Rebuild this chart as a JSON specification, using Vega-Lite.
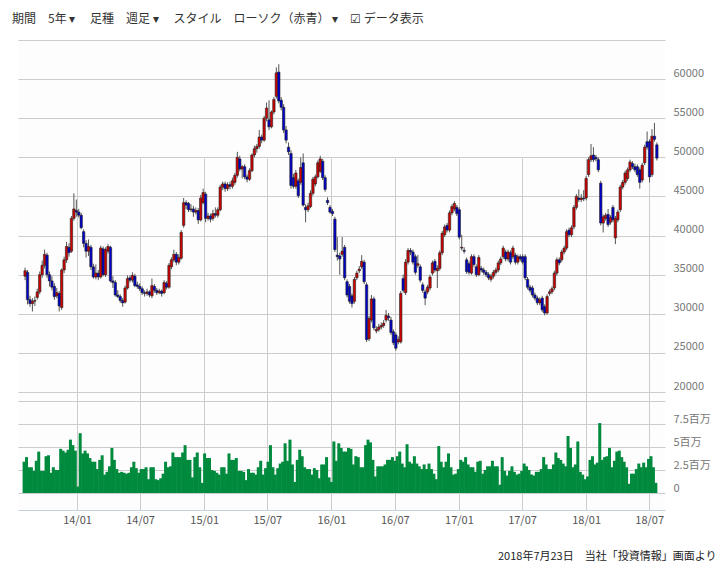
{
"$schema":"https://vega.github.io/schema/vega-lite/v6.json",
"width":647,"height":470,
"autosize":{"type":"none"},
"padding":{"left":18,"top":40,"right":61,"bottom":60},
"background":"white",
"config":{"view":{"stroke":null,"fill":"#fdfdfd"},"font":"Noto Sans CJK JP"},
"title":{"text":"期間　5年 ▾　 足種　週足 ▾　 スタイル　ローソク（赤青） ▾　☑ データ表示","anchor":"start","dx":-6,"offset":14,"fontSize":12,"fontWeight":"normal","color":"#333","font":"Noto Sans CJK JP"},
"data":{"values":[
{"d":"2013-08-05","o":34800,"h":35900,"l":34300,"c":35500,"v":3.4},
{"d":"2013-08-12","o":35300,"h":35600,"l":31200,"c":31800,"v":3.9},
{"d":"2013-08-19","o":31800,"h":32300,"l":30900,"c":31300,"v":2.8},
{"d":"2013-08-26","o":31300,"h":32000,"l":30300,"c":31600,"v":2.8},
{"d":"2013-09-02","o":31600,"h":32200,"l":31000,"c":31700,"v":2.4},
{"d":"2013-09-09","o":32100,"h":33200,"l":31800,"c":32800,"v":3.5},
{"d":"2013-09-16","o":32800,"h":35400,"l":32500,"c":35000,"v":4.5},
{"d":"2013-09-23","o":35000,"h":36800,"l":34600,"c":36200,"v":2.4},
{"d":"2013-09-30","o":36200,"h":38200,"l":35800,"c":37600,"v":2.4},
{"d":"2013-10-07","o":37500,"h":37800,"l":34600,"c":35000,"v":4.0},
{"d":"2013-10-14","o":35000,"h":35400,"l":33500,"c":34200,"v":4.1},
{"d":"2013-10-21","o":34200,"h":34800,"l":33000,"c":33400,"v":2.2},
{"d":"2013-10-28","o":33500,"h":33900,"l":31800,"c":32200,"v":2.8},
{"d":"2013-11-04","o":32300,"h":33300,"l":32000,"c":32700,"v":2.5},
{"d":"2013-11-11","o":32600,"h":32900,"l":30300,"c":31000,"v":2.5},
{"d":"2013-11-18","o":30800,"h":35800,"l":30500,"c":35600,"v":4.8},
{"d":"2013-11-25","o":35600,"h":37300,"l":35200,"c":36900,"v":4.6},
{"d":"2013-12-02","o":36900,"h":39200,"l":36500,"c":38600,"v":4.4},
{"d":"2013-12-09","o":38500,"h":39000,"l":37300,"c":37800,"v":4.7},
{"d":"2013-12-16","o":38000,"h":42500,"l":37800,"c":42200,"v":5.8},
{"d":"2013-12-23","o":42200,"h":45400,"l":41900,"c":43400,"v":5.2},
{"d":"2013-12-30","o":43200,"h":44600,"l":42400,"c":43000,"v":4.6},
{"d":"2014-01-06","o":43000,"h":43400,"l":42300,"c":42600,"v":0.7},
{"d":"2014-01-13","o":42600,"h":42900,"l":40800,"c":41000,"v":6.5},
{"d":"2014-01-20","o":40500,"h":40800,"l":38500,"c":39000,"v":4.3},
{"d":"2014-01-27","o":39000,"h":39400,"l":37200,"c":38000,"v":4.6},
{"d":"2014-02-03","o":38000,"h":39500,"l":37400,"c":38600,"v":4.3},
{"d":"2014-02-10","o":38500,"h":38800,"l":35600,"c":36000,"v":3.8},
{"d":"2014-02-17","o":36000,"h":36400,"l":34500,"c":34700,"v":3.4},
{"d":"2014-02-24","o":34700,"h":36300,"l":34400,"c":35200,"v":3.4},
{"d":"2014-03-03","o":35200,"h":35600,"l":34300,"c":34700,"v":2.6},
{"d":"2014-03-10","o":34700,"h":38700,"l":34500,"c":38400,"v":3.6},
{"d":"2014-03-17","o":38300,"h":38600,"l":34800,"c":35000,"v":4.1},
{"d":"2014-03-24","o":35000,"h":38500,"l":34700,"c":38200,"v":2.0},
{"d":"2014-03-31","o":38000,"h":38900,"l":37700,"c":38600,"v":2.3},
{"d":"2014-04-07","o":38500,"h":38700,"l":34000,"c":34200,"v":2.9},
{"d":"2014-04-14","o":34200,"h":34800,"l":33300,"c":34000,"v":4.9},
{"d":"2014-04-21","o":34000,"h":34300,"l":32200,"c":32400,"v":3.6},
{"d":"2014-04-28","o":32400,"h":33000,"l":32000,"c":32200,"v":2.6},
{"d":"2014-05-05","o":32200,"h":32500,"l":31400,"c":31700,"v":2.2},
{"d":"2014-05-12","o":31700,"h":32000,"l":30900,"c":31400,"v":2.3},
{"d":"2014-05-19","o":31500,"h":33600,"l":31300,"c":33300,"v":2.2},
{"d":"2014-05-26","o":33300,"h":34900,"l":33100,"c":34500,"v":2.1},
{"d":"2014-06-02","o":34600,"h":34900,"l":34000,"c":34300,"v":2.2},
{"d":"2014-06-09","o":34300,"h":35300,"l":34000,"c":34900,"v":2.8},
{"d":"2014-06-16","o":34800,"h":35100,"l":33400,"c":33600,"v":3.4},
{"d":"2014-06-23","o":33700,"h":34100,"l":33200,"c":33500,"v":2.7},
{"d":"2014-06-30","o":33500,"h":33900,"l":32900,"c":33200,"v":2.2},
{"d":"2014-07-07","o":33200,"h":33500,"l":32400,"c":32700,"v":2.6},
{"d":"2014-07-14","o":32700,"h":33000,"l":32200,"c":32600,"v":2.6},
{"d":"2014-07-21","o":32600,"h":33200,"l":32300,"c":32800,"v":2.8},
{"d":"2014-07-28","o":32800,"h":33000,"l":32100,"c":32400,"v":1.5},
{"d":"2014-08-04","o":32300,"h":34500,"l":32000,"c":33600,"v":2.8},
{"d":"2014-08-11","o":33500,"h":33800,"l":32700,"c":33000,"v":2.8},
{"d":"2014-08-18","o":33000,"h":33300,"l":32400,"c":32700,"v":1.5},
{"d":"2014-08-25","o":32700,"h":33200,"l":32500,"c":32900,"v":1.4},
{"d":"2014-09-01","o":32900,"h":33100,"l":32200,"c":32600,"v":1.6},
{"d":"2014-09-08","o":32700,"h":34300,"l":32500,"c":34000,"v":2.1},
{"d":"2014-09-15","o":33900,"h":34200,"l":33100,"c":33400,"v":3.4},
{"d":"2014-09-22","o":33400,"h":36500,"l":33200,"c":36200,"v":2.8},
{"d":"2014-09-29","o":36000,"h":37200,"l":35700,"c":36900,"v":2.9},
{"d":"2014-10-06","o":36900,"h":38200,"l":36600,"c":37600,"v":4.4},
{"d":"2014-10-13","o":37600,"h":37900,"l":36200,"c":36600,"v":3.9},
{"d":"2014-10-20","o":36600,"h":37600,"l":36300,"c":37200,"v":3.9},
{"d":"2014-10-27","o":37100,"h":40700,"l":36900,"c":40400,"v":3.9},
{"d":"2014-11-03","o":41300,"h":44800,"l":41000,"c":44200,"v":4.4},
{"d":"2014-11-10","o":44200,"h":44500,"l":43400,"c":43900,"v":5.2},
{"d":"2014-11-17","o":44100,"h":44300,"l":43000,"c":43300,"v":3.6},
{"d":"2014-11-24","o":43300,"h":44000,"l":43000,"c":43400,"v":3.6},
{"d":"2014-12-01","o":43400,"h":43800,"l":42400,"c":43000,"v":1.7},
{"d":"2014-12-08","o":43000,"h":43600,"l":42700,"c":43200,"v":3.9},
{"d":"2014-12-15","o":43200,"h":43500,"l":41500,"c":42000,"v":4.4},
{"d":"2014-12-22","o":42000,"h":45200,"l":41800,"c":44800,"v":2.8},
{"d":"2014-12-29","o":44200,"h":46000,"l":44000,"c":45500,"v":1.1},
{"d":"2015-01-05","o":45300,"h":45600,"l":41700,"c":42200,"v":4.3},
{"d":"2015-01-12","o":42200,"h":42900,"l":41900,"c":42500,"v":3.8},
{"d":"2015-01-19","o":42500,"h":42800,"l":41700,"c":42100,"v":3.8},
{"d":"2015-01-26","o":42200,"h":43300,"l":41900,"c":42800,"v":2.5},
{"d":"2015-02-02","o":42800,"h":43600,"l":42300,"c":42600,"v":2.4},
{"d":"2015-02-09","o":42600,"h":43600,"l":42300,"c":43300,"v":2.2},
{"d":"2015-02-16","o":43300,"h":46500,"l":43100,"c":46200,"v":2.0},
{"d":"2015-02-23","o":46200,"h":46900,"l":45800,"c":46600,"v":2.8},
{"d":"2015-03-02","o":46600,"h":46900,"l":45600,"c":46000,"v":2.8},
{"d":"2015-03-09","o":46000,"h":46800,"l":45700,"c":46500,"v":2.1},
{"d":"2015-03-16","o":46500,"h":46900,"l":45900,"c":46300,"v":4.3},
{"d":"2015-03-23","o":46300,"h":47400,"l":46000,"c":47000,"v":3.6},
{"d":"2015-03-30","o":46800,"h":48000,"l":46500,"c":47700,"v":3.6},
{"d":"2015-04-06","o":47700,"h":50700,"l":47400,"c":50000,"v":3.8},
{"d":"2015-04-13","o":49800,"h":50200,"l":48200,"c":48500,"v":2.4},
{"d":"2015-04-20","o":48500,"h":49000,"l":47300,"c":48800,"v":2.4},
{"d":"2015-04-27","o":48800,"h":49100,"l":47200,"c":47500,"v":2.3},
{"d":"2015-05-04","o":47500,"h":47800,"l":46800,"c":47200,"v":1.4},
{"d":"2015-05-11","o":47200,"h":48600,"l":47000,"c":48300,"v":2.6},
{"d":"2015-05-18","o":48300,"h":50500,"l":48100,"c":50300,"v":2.2},
{"d":"2015-05-25","o":50300,"h":51500,"l":50000,"c":51100,"v":2.2},
{"d":"2015-06-01","o":51100,"h":51700,"l":50600,"c":51400,"v":2.0},
{"d":"2015-06-08","o":51400,"h":53500,"l":51100,"c":52600,"v":2.8},
{"d":"2015-06-15","o":52600,"h":52900,"l":51800,"c":52200,"v":3.5},
{"d":"2015-06-22","o":52200,"h":55300,"l":52000,"c":55000,"v":2.0},
{"d":"2015-06-29","o":55000,"h":57000,"l":54600,"c":56300,"v":2.7},
{"d":"2015-07-06","o":54800,"h":57300,"l":53500,"c":53900,"v":3.4},
{"d":"2015-07-13","o":53900,"h":56000,"l":53700,"c":55800,"v":5.2},
{"d":"2015-07-20","o":55800,"h":57700,"l":55500,"c":57400,"v":2.8},
{"d":"2015-07-27","o":57800,"h":61500,"l":57500,"c":60800,"v":2.0},
{"d":"2015-08-03","o":60900,"h":61900,"l":56900,"c":57200,"v":2.7},
{"d":"2015-08-10","o":57300,"h":57700,"l":56000,"c":56400,"v":3.2},
{"d":"2015-08-17","o":56400,"h":56800,"l":53100,"c":53500,"v":3.4},
{"d":"2015-08-24","o":53500,"h":54000,"l":51800,"c":52200,"v":5.4},
{"d":"2015-08-31","o":51300,"h":51900,"l":50300,"c":50700,"v":3.5},
{"d":"2015-09-07","o":50500,"h":50900,"l":46000,"c":46400,"v":5.8},
{"d":"2015-09-14","o":47400,"h":47900,"l":46000,"c":46300,"v":3.1},
{"d":"2015-09-21","o":46300,"h":48400,"l":46000,"c":48000,"v":1.2},
{"d":"2015-09-28","o":47000,"h":47300,"l":44800,"c":45100,"v":3.6},
{"d":"2015-10-05","o":46800,"h":50000,"l":46500,"c":48700,"v":4.7},
{"d":"2015-10-12","o":49300,"h":50500,"l":43700,"c":43900,"v":4.0},
{"d":"2015-10-19","o":43600,"h":44000,"l":41700,"c":43300,"v":2.8},
{"d":"2015-10-26","o":43300,"h":44200,"l":43000,"c":43800,"v":2.6},
{"d":"2015-11-02","o":43700,"h":45800,"l":43500,"c":45400,"v":2.6},
{"d":"2015-11-09","o":45400,"h":47500,"l":45100,"c":47200,"v":2.0},
{"d":"2015-11-16","o":46600,"h":47800,"l":46300,"c":47500,"v":2.7},
{"d":"2015-11-23","o":47500,"h":49600,"l":47300,"c":49300,"v":2.5},
{"d":"2015-11-30","o":48200,"h":50200,"l":48000,"c":49800,"v":1.6},
{"d":"2015-12-07","o":49500,"h":49800,"l":47100,"c":47400,"v":3.1},
{"d":"2015-12-14","o":47400,"h":47700,"l":45600,"c":45900,"v":3.1},
{"d":"2015-12-21","o":44500,"h":44900,"l":43900,"c":44200,"v":3.9},
{"d":"2015-12-28","o":43600,"h":43900,"l":42800,"c":43000,"v":1.7},
{"d":"2016-01-04","o":43100,"h":43400,"l":42500,"c":42800,"v":1.2},
{"d":"2016-01-11","o":42100,"h":42400,"l":37900,"c":38200,"v":5.6},
{"d":"2016-01-18","o":37500,"h":39800,"l":36800,"c":37300,"v":3.5},
{"d":"2016-01-25","o":37400,"h":37800,"l":35000,"c":37000,"v":5.4},
{"d":"2016-02-01","o":37600,"h":39800,"l":37300,"c":38000,"v":4.9},
{"d":"2016-02-08","o":38500,"h":38800,"l":34300,"c":34600,"v":4.5},
{"d":"2016-02-15","o":34100,"h":34400,"l":32100,"c":32400,"v":4.5},
{"d":"2016-02-22","o":33500,"h":33800,"l":31300,"c":31600,"v":4.9},
{"d":"2016-02-29","o":32300,"h":32600,"l":30800,"c":31300,"v":4.8},
{"d":"2016-03-07","o":31600,"h":34700,"l":31300,"c":34400,"v":3.1},
{"d":"2016-03-14","o":34600,"h":35500,"l":34300,"c":35200,"v":4.0},
{"d":"2016-03-21","o":35500,"h":36100,"l":35200,"c":35700,"v":3.9},
{"d":"2016-03-28","o":36000,"h":37500,"l":35700,"c":36700,"v":2.8},
{"d":"2016-04-04","o":36600,"h":36900,"l":33800,"c":34100,"v":2.8},
{"d":"2016-04-11","o":33700,"h":34000,"l":26400,"c":26700,"v":5.2},
{"d":"2016-04-18","o":26800,"h":29700,"l":26500,"c":29400,"v":5.8},
{"d":"2016-04-25","o":29200,"h":32400,"l":28900,"c":31900,"v":5.5},
{"d":"2016-05-02","o":31900,"h":32200,"l":27900,"c":28200,"v":3.6},
{"d":"2016-05-09","o":27800,"h":28400,"l":27500,"c":28000,"v":1.8},
{"d":"2016-05-16","o":28000,"h":28700,"l":27700,"c":28300,"v":2.9},
{"d":"2016-05-23","o":28300,"h":28900,"l":28000,"c":28500,"v":2.9},
{"d":"2016-05-30","o":28500,"h":29200,"l":28200,"c":28800,"v":2.9},
{"d":"2016-06-06","o":29200,"h":30500,"l":28900,"c":29800,"v":3.1},
{"d":"2016-06-13","o":29700,"h":30100,"l":29100,"c":29500,"v":3.6},
{"d":"2016-06-20","o":29200,"h":29600,"l":27300,"c":27600,"v":3.6},
{"d":"2016-06-27","o":27700,"h":28000,"l":26000,"c":26300,"v":3.9},
{"d":"2016-07-04","o":27300,"h":27600,"l":25300,"c":25600,"v":3.5},
{"d":"2016-07-11","o":26400,"h":27100,"l":26100,"c":26700,"v":4.0},
{"d":"2016-07-18","o":26400,"h":32900,"l":26200,"c":32600,"v":4.5},
{"d":"2016-07-25","o":34500,"h":35000,"l":32700,"c":33000,"v":3.2},
{"d":"2016-08-01","o":32700,"h":37000,"l":32400,"c":36600,"v":2.8},
{"d":"2016-08-08","o":36600,"h":38400,"l":36300,"c":38100,"v":5.3},
{"d":"2016-08-15","o":38100,"h":38400,"l":37500,"c":37900,"v":3.4},
{"d":"2016-08-22","o":37900,"h":38200,"l":36300,"c":36600,"v":3.2},
{"d":"2016-08-29","o":37300,"h":37600,"l":35000,"c":35300,"v":4.0},
{"d":"2016-09-05","o":36200,"h":37500,"l":35900,"c":36400,"v":3.2},
{"d":"2016-09-12","o":36000,"h":36300,"l":34000,"c":34300,"v":2.9},
{"d":"2016-09-19","o":33700,"h":34000,"l":32700,"c":33000,"v":2.6},
{"d":"2016-09-26","o":32800,"h":33100,"l":31100,"c":32000,"v":3.1},
{"d":"2016-10-03","o":32800,"h":33700,"l":32500,"c":33400,"v":2.6},
{"d":"2016-10-10","o":33300,"h":35000,"l":33000,"c":34700,"v":3.2},
{"d":"2016-10-17","o":35200,"h":36800,"l":34900,"c":36500,"v":2.6},
{"d":"2016-10-24","o":36700,"h":37000,"l":35300,"c":35600,"v":2.1},
{"d":"2016-10-31","o":35500,"h":36200,"l":33300,"c":35800,"v":1.5},
{"d":"2016-11-07","o":35800,"h":38100,"l":35500,"c":37800,"v":5.1},
{"d":"2016-11-14","o":37800,"h":40600,"l":37500,"c":40300,"v":3.4},
{"d":"2016-11-21","o":40100,"h":41400,"l":39800,"c":41100,"v":2.8},
{"d":"2016-11-28","o":41300,"h":41600,"l":40400,"c":40700,"v":3.4},
{"d":"2016-12-05","o":40700,"h":43200,"l":40400,"c":42900,"v":4.3},
{"d":"2016-12-12","o":42900,"h":44000,"l":42600,"c":43700,"v":2.8},
{"d":"2016-12-19","o":43400,"h":44400,"l":43100,"c":44100,"v":2.0},
{"d":"2016-12-26","o":43600,"h":43900,"l":42500,"c":42800,"v":2.1},
{"d":"2017-01-02","o":43300,"h":43600,"l":39500,"c":39800,"v":2.6},
{"d":"2017-01-09","o":38400,"h":40100,"l":38100,"c":38500,"v":3.6},
{"d":"2017-01-16","o":38100,"h":38500,"l":37700,"c":38000,"v":3.4},
{"d":"2017-01-23","o":36900,"h":37200,"l":35100,"c":35400,"v":3.9},
{"d":"2017-01-30","o":36400,"h":36700,"l":35000,"c":35300,"v":3.1},
{"d":"2017-02-06","o":35200,"h":37600,"l":35000,"c":37300,"v":2.8},
{"d":"2017-02-13","o":37300,"h":37600,"l":36000,"c":36300,"v":2.8},
{"d":"2017-02-20","o":36000,"h":36300,"l":34700,"c":35000,"v":2.3},
{"d":"2017-02-27","o":35000,"h":37500,"l":34800,"c":37200,"v":3.4},
{"d":"2017-03-06","o":35800,"h":36100,"l":35300,"c":35600,"v":3.5},
{"d":"2017-03-13","o":35600,"h":35900,"l":35000,"c":35300,"v":2.1},
{"d":"2017-03-20","o":35300,"h":35600,"l":34700,"c":35000,"v":2.5},
{"d":"2017-03-27","o":35000,"h":35300,"l":34300,"c":34600,"v":2.9},
{"d":"2017-04-03","o":34400,"h":35100,"l":34100,"c":34800,"v":2.9},
{"d":"2017-04-10","o":34800,"h":35600,"l":34500,"c":35300,"v":3.5},
{"d":"2017-04-17","o":35300,"h":35900,"l":35000,"c":35600,"v":2.9},
{"d":"2017-04-24","o":35600,"h":36800,"l":35300,"c":36500,"v":2.9},
{"d":"2017-05-01","o":36500,"h":37300,"l":36200,"c":37000,"v":0.9},
{"d":"2017-05-08","o":37300,"h":38700,"l":37000,"c":38400,"v":3.9},
{"d":"2017-05-15","o":37900,"h":38200,"l":36700,"c":37000,"v":2.4},
{"d":"2017-05-22","o":37000,"h":38200,"l":36700,"c":37900,"v":1.9},
{"d":"2017-05-29","o":37800,"h":38100,"l":36300,"c":36600,"v":2.4},
{"d":"2017-06-05","o":37300,"h":38700,"l":37000,"c":38400,"v":2.9},
{"d":"2017-06-12","o":37500,"h":37800,"l":36300,"c":36600,"v":2.3},
{"d":"2017-06-19","o":36600,"h":37600,"l":36300,"c":37300,"v":2.0},
{"d":"2017-06-26","o":37300,"h":37600,"l":36700,"c":37000,"v":2.1},
{"d":"2017-07-03","o":37300,"h":37600,"l":36300,"c":36600,"v":2.4},
{"d":"2017-07-10","o":37300,"h":37600,"l":34300,"c":34600,"v":3.2},
{"d":"2017-07-17","o":34400,"h":34700,"l":33100,"c":33400,"v":2.9},
{"d":"2017-07-24","o":33400,"h":33700,"l":32700,"c":33000,"v":2.5},
{"d":"2017-07-31","o":33300,"h":33600,"l":32100,"c":32400,"v":2.0},
{"d":"2017-08-07","o":32400,"h":32700,"l":31700,"c":32000,"v":1.9},
{"d":"2017-08-14","o":32000,"h":32300,"l":31100,"c":31400,"v":2.3},
{"d":"2017-08-21","o":31400,"h":32100,"l":31100,"c":31800,"v":2.3},
{"d":"2017-08-28","o":32000,"h":32300,"l":30200,"c":30500,"v":2.6},
{"d":"2017-09-04","o":30900,"h":31200,"l":29800,"c":30100,"v":3.9},
{"d":"2017-09-11","o":30100,"h":32500,"l":29900,"c":32200,"v":3.1},
{"d":"2017-09-18","o":32600,"h":33100,"l":32300,"c":32800,"v":2.6},
{"d":"2017-09-25","o":32800,"h":33500,"l":32500,"c":33200,"v":2.6},
{"d":"2017-10-02","o":33300,"h":35500,"l":33000,"c":35200,"v":3.1},
{"d":"2017-10-09","o":35200,"h":37200,"l":34900,"c":36900,"v":4.4},
{"d":"2017-10-16","o":36900,"h":37200,"l":36200,"c":36500,"v":3.8},
{"d":"2017-10-23","o":36900,"h":38200,"l":36600,"c":37900,"v":3.6},
{"d":"2017-10-30","o":37900,"h":38700,"l":37600,"c":38400,"v":3.2},
{"d":"2017-11-06","o":38400,"h":40800,"l":38100,"c":40500,"v":2.9},
{"d":"2017-11-13","o":40700,"h":41000,"l":39800,"c":40100,"v":6.2},
{"d":"2017-11-20","o":40100,"h":41300,"l":39800,"c":41000,"v":4.9},
{"d":"2017-11-27","o":41100,"h":43900,"l":40800,"c":43600,"v":2.8},
{"d":"2017-12-04","o":43600,"h":45300,"l":43300,"c":45000,"v":3.1},
{"d":"2017-12-11","o":44800,"h":45900,"l":44300,"c":44600,"v":5.6},
{"d":"2017-12-18","o":44600,"h":45300,"l":44300,"c":44800,"v":2.3},
{"d":"2017-12-25","o":44800,"h":45800,"l":44400,"c":44700,"v":2.0},
{"d":"2018-01-01","o":44800,"h":47600,"l":44500,"c":47300,"v":1.5},
{"d":"2018-01-08","o":47800,"h":50000,"l":47500,"c":49700,"v":1.8},
{"d":"2018-01-15","o":49700,"h":51700,"l":49400,"c":50200,"v":3.6},
{"d":"2018-01-22","o":50300,"h":51300,"l":49400,"c":49700,"v":4.0},
{"d":"2018-01-29","o":50000,"h":50300,"l":49500,"c":49800,"v":3.1},
{"d":"2018-02-05","o":49700,"h":50000,"l":48100,"c":48400,"v":3.3},
{"d":"2018-02-12","o":46700,"h":47000,"l":41300,"c":41600,"v":7.6},
{"d":"2018-02-19","o":41600,"h":42700,"l":40400,"c":42400,"v":3.6},
{"d":"2018-02-26","o":42200,"h":42900,"l":41900,"c":42600,"v":3.9},
{"d":"2018-03-05","o":42700,"h":43400,"l":41100,"c":41400,"v":4.0},
{"d":"2018-03-12","o":41700,"h":42600,"l":41400,"c":42300,"v":4.9},
{"d":"2018-03-19","o":43600,"h":43900,"l":41700,"c":42000,"v":2.8},
{"d":"2018-03-26","o":39700,"h":42500,"l":38900,"c":42200,"v":3.5},
{"d":"2018-04-02","o":42000,"h":43300,"l":41700,"c":43000,"v":4.5},
{"d":"2018-04-09","o":43300,"h":46500,"l":43000,"c":46200,"v":4.6},
{"d":"2018-04-16","o":46200,"h":47100,"l":45900,"c":46800,"v":3.9},
{"d":"2018-04-23","o":46800,"h":48300,"l":46500,"c":48000,"v":3.4},
{"d":"2018-04-30","o":47300,"h":48700,"l":47000,"c":48400,"v":2.8},
{"d":"2018-05-07","o":48400,"h":49700,"l":48100,"c":49400,"v":1.0},
{"d":"2018-05-14","o":49200,"h":49500,"l":48500,"c":48800,"v":2.1},
{"d":"2018-05-21","o":48800,"h":49200,"l":48100,"c":48400,"v":2.1},
{"d":"2018-05-28","o":48800,"h":49100,"l":47500,"c":47800,"v":2.6},
{"d":"2018-06-04","o":48400,"h":48700,"l":46000,"c":46800,"v":3.2},
{"d":"2018-06-11","o":47100,"h":49300,"l":46800,"c":49000,"v":2.8},
{"d":"2018-06-18","o":49300,"h":51600,"l":49000,"c":51300,"v":3.3},
{"d":"2018-06-25","o":52000,"h":53300,"l":51000,"c":51300,"v":2.8},
{"d":"2018-07-02","o":52000,"h":52300,"l":46800,"c":47500,"v":3.7},
{"d":"2018-07-09","o":47800,"h":53600,"l":47500,"c":52700,"v":4.0},
{"d":"2018-07-16","o":52700,"h":54400,"l":52000,"c":52300,"v":2.8},
{"d":"2018-07-23","o":51600,"h":51900,"l":49600,"c":49900,"v":1.1}
]},
"encoding":{"x":{"field":"d","type":"temporal",
  "scale":{"type":"utc","domain":[{"year":2013,"month":7,"date":30,"utc":true},{"year":2018,"month":8,"date":1,"utc":true}]},
  "axis":{"values":[{"year":2014,"month":1,"date":1,"utc":true},{"year":2014,"month":7,"date":1,"utc":true},{"year":2015,"month":1,"date":1,"utc":true},{"year":2015,"month":7,"date":1,"utc":true},{"year":2016,"month":1,"date":1,"utc":true},{"year":2016,"month":7,"date":1,"utc":true},{"year":2017,"month":1,"date":1,"utc":true},{"year":2017,"month":7,"date":1,"utc":true},{"year":2018,"month":1,"date":1,"utc":true},{"year":2018,"month":7,"date":1,"utc":true}],
    "format":"%y/%m","grid":true,"gridColor":"#cccccc","ticks":false,"domain":true,"domainColor":"#c5d0dc","labelPadding":4,"labelBaseline":"top","labelFontSize":11,"labelColor":"#555","labelFont":"Noto Sans CJK JP",
    "title":"2018年7月23日　当社「投資情報」画面より","titleAnchor":"end","titleAlign":"right","titleX":698,"titleY":46,"titleBaseline":"middle","titleFontSize":11,"titleFontWeight":"normal","titleColor":"#222","titleFont":"Noto Sans CJK JP"}}},
"layer":[
 {"layer":[
   {"mark":{"type":"rule","color":"#555","strokeWidth":1},
    "encoding":{"y":{"field":"l","type":"quantitative","scale":{"domain":[20000,65000],"range":[352,0],"zero":false,"nice":false},
      "axis":{"orient":"right","values":[20000,25000,30000,35000,40000,45000,50000,55000,60000,65000],"format":"d","labelExpr":"datum.value > 60000 ? '' : datum.label","grid":true,"gridColor":"#cccccc","ticks":false,"domain":false,"labelPadding":8,"labelAlign":"left","labelOffset":-6,"labelFontSize":11,"labelColor":"#777","labelFont":"Noto Sans CJK JP","title":null}},
     "y2":{"field":"h"}}},
   {"mark":{"type":"bar","size":2.4,"stroke":"#222","strokeWidth":0.6},
    "encoding":{"y":{"field":"o","type":"quantitative"},"y2":{"field":"c"},
     "color":{"condition":{"test":"datum.c >= datum.o","value":"#d00000"},"value":"#0000cc"}}}
 ]},
 {"mark":{"type":"bar","size":3,"color":"#008a3e","xOffset":-1},
  "encoding":{"y":{"field":"v","type":"quantitative","scale":{"domain":[0,10],"range":[453,361],"nice":false},
    "axis":{"orient":"right","values":[0,2.5,5,7.5,10],"labelExpr":"datum.value == 0 ? '0' : (datum.value >= 10 ? '' : datum.value + '百万')","grid":true,"gridColor":"#cccccc","ticks":false,"domain":false,"labelPadding":8,"labelAlign":"left","labelOffset":-5,"labelFontSize":11,"labelColor":"#777","labelFont":"Noto Sans CJK JP","title":null}}}}
],
"resolve":{"scale":{"y":"independent"}}
}
